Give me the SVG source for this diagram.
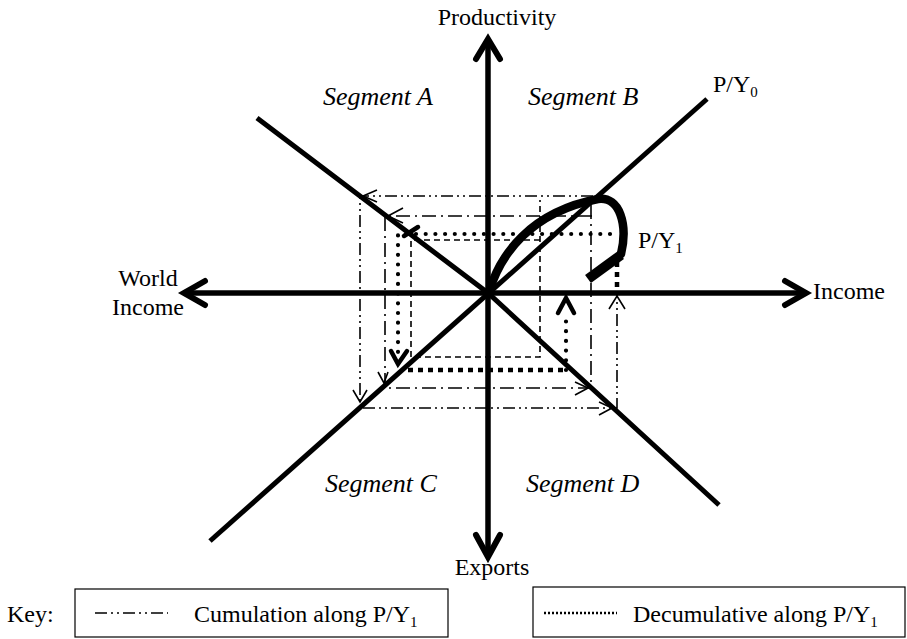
<svg xmlns="http://www.w3.org/2000/svg" width="907" height="639" viewBox="0 0 907 639">
<style>
.lbl{font-family:"Liberation Serif",serif;font-size:24px;fill:#000}
.it{font-style:italic;font-size:26px}
.ax{stroke:#000;stroke-width:5.5;fill:none}
.head{stroke:#000;stroke-width:6;fill:none;stroke-linecap:round;stroke-linejoin:miter}
.diag{stroke:#000;stroke-width:5;fill:none}
.dd{stroke:#000;stroke-width:1.6;fill:none;stroke-dasharray:12 4 2 4 2 4}
.d1{stroke:#000;stroke-width:1.6;fill:none;stroke-dasharray:14 5 2 5}
.dash{stroke:#000;stroke-width:1.6;fill:none;stroke-dasharray:6 4}
.dots{stroke:#000;stroke-width:4.2;fill:none;stroke-dasharray:0 9.7;stroke-linecap:round}
.sq{stroke:#000;stroke-width:4.5;fill:none;stroke-dasharray:5 5}
.th{stroke:#000;stroke-width:1.6;fill:none}
.tk{stroke:#000;stroke-width:4.5;fill:none;stroke-linecap:round}
.box{stroke:#000;stroke-width:1.2;fill:#fff}
</style>
<rect width="907" height="639" fill="#fff"/>
<g id="connectors">
  <line class="ax" x1="488" y1="41" x2="488" y2="555"/>
  <line class="ax" x1="185" y1="293" x2="805" y2="293"/>
  <polyline class="head" points="476,59 488,39 500,59"/>
  <polyline class="head" points="476,535 488,557 500,535"/>
  <polyline class="head" points="205,281 184,293 205,305"/>
  <polyline class="head" points="785,281 806,293 785,305"/>
  <line class="diag" x1="210" y1="541" x2="707" y2="99"/>
  <polyline class="diag" points="257,118 488,293 719,505"/>
  <polyline class="dd" points="593,196 360,196 360,408 617,408 617,295"/>
  <polyline class="th" points="377,190 363,196 377,202"/>
  <polyline class="th" points="353,390 360,402 367,390"/>
  <polyline class="th" points="599,402 612,408 599,415"/>
  <polyline class="th" points="609,309 617,296 625,309"/>
  <polyline class="d1" points="592,216 385,216 385,388 591,388 591,200"/>
  <polyline class="th" points="403,208 388,216 403,223"/>
  <polyline class="th" points="378,372 384,383 388,372"/>
  <polyline class="th" points="575,382 588,388 575,395"/>
  <polyline class="dash" points="540,240 411,240 411,357 540,357 540,200"/>
  <polyline class="dots" points="610,234 398,234 398,352"/>
  <line class="tk" x1="404" y1="236" x2="418" y2="227"/>
  <polyline class="tk" points="391,351 398,364 407,351"/>
  <line class="sq" x1="408" y1="370" x2="567" y2="370"/>
  <line class="dots" x1="566" y1="370" x2="566" y2="312"/>
  <polyline class="tk" points="558,313 566,298 574,313"/>
  <line class="sq" x1="617" y1="262" x2="617" y2="291"/>
  <path d="M489,292 C500,255 530,212 598,199 C620,196 628,225 621,254" stroke="#000" stroke-width="8.5" fill="none" stroke-linecap="round"/>
  <line x1="621" y1="255" x2="588" y2="279" stroke="#000" stroke-width="10"/>
</g>
<g id="labels">
  <text class="lbl" x="497" y="25" text-anchor="middle">Productivity</text>
  <text class="lbl" x="492" y="575" text-anchor="middle">Exports</text>
  <text class="lbl" x="813" y="299">Income</text>
  <text class="lbl" x="148" y="286" text-anchor="middle">World</text>
  <text class="lbl" x="148" y="315" text-anchor="middle">Income</text>
  <text class="lbl it" x="323" y="105">Segment A</text>
  <text class="lbl it" x="528" y="105">Segment B</text>
  <text class="lbl it" x="325" y="492">Segment C</text>
  <text class="lbl it" x="526" y="492">Segment D</text>
  <text class="lbl" x="713" y="92">P/Y<tspan font-size="15" dy="5">0</tspan></text>
  <text class="lbl" x="638" y="248">P/Y<tspan font-size="15" dy="5">1</tspan></text>
</g>
<g id="key">
  <text class="lbl" x="7" y="622">Key:</text>
  <g id="key-cumulation">
    <rect class="box" x="75" y="589" width="373" height="48"/>
    <line class="dd" x1="95" y1="613" x2="168" y2="613"/>
    <text class="lbl" x="194" y="622">Cumulation along P/Y<tspan font-size="15" dy="5">1</tspan></text>
  </g>
  <g id="key-decumulative">
    <rect class="box" x="533" y="587" width="372" height="50"/>
    <line x1="544" y1="613" x2="617" y2="613" stroke="#000" stroke-width="2.5" stroke-dasharray="2 2"/>
    <text class="lbl" x="633" y="622">Decumulative along P/Y<tspan font-size="15" dy="5">1</tspan></text>
  </g>
</g>
</svg>
